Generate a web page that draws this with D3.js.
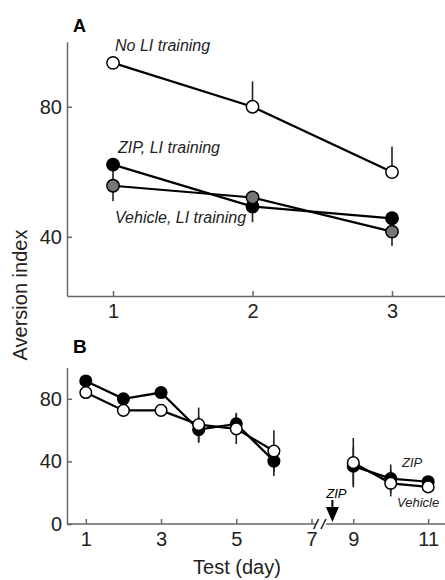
<!DOCTYPE html>
<html>
<head>
<meta charset="utf-8">
<script src="https://cdn.jsdelivr.net/npm/d3@7"></script>
<style>
  body { margin: 0; background: #fff; }
  svg { font-family: "Liberation Sans", Arial, Helvetica, sans-serif; }
  .axis path, .axis line { stroke: #666; stroke-width: 1.5; }
  .axis text { font-size: 20px; fill: #222; }
</style>
</head>
<body>
<div id="chart"></div>
<script>
// Panel A: latent inhibition training, test days 1-3
var daysA = [1, 2, 3];
var noLI = [93.5, 80, 59.9];
var noLIErr = [0, 7.8, 7.9];
var zipLI = [62.2, 49.3, 45.7];
var zipLIErr = [5, 4.8, 0];
var vehLI = [55.7, 52.1, 41.6];
var vehLIErr = [4.8, 0, 4.4];

// Panel B: extinction days, ZIP given before day 9
var daysB = [1, 2, 3, 4, 5, 6, 9, 10, 11];
var zipB = [91.4, 80, 84, 60.3, 64, 40.2, 37, 29, 27];
var zipBErr = [2, 2, 2, 8.5, 7, 9.5, 12, 9, 2];
var vehB = [84, 72.6, 72.6, 63.5, 60.8, 46.6, 39.2, 26, 23.7];
var vehBErr = [2, 2, 2, 10.9, 9.7, 13.3, 15.8, 8.4, 2];

var ticksAx = [1, 2, 3];
var ticksAy = [40, 80];
var ticksBx = [1, 3, 5, 7, 9, 11];
var ticksBy = [0, 40, 80];

var width = 445, height = 580;

var svg = d3.select('#chart').append('svg')
    .attr('width', width)
    .attr('height', height);

// ---- Panel A ----
var xA = d3.scaleLinear().domain([0.67, 3.38]).range([67, 445]);
var yA = d3.scaleLinear().domain([21.8, 100]).range([296, 41.7]);

svg.append('g').attr('class', 'axis')
    .attr('transform', 'translate(0,296)')
    .call(d3.axisBottom(xA).tickValues(ticksAx).tickFormat(d3.format('d'))
        .tickSize(-5).tickPadding(8).tickSizeOuter(0));
svg.append('g').attr('class', 'axis')
    .attr('transform', 'translate(67,0)')
    .call(d3.axisLeft(yA).tickValues(ticksAy).tickSize(-5).tickPadding(5).tickSizeOuter(0));

var seriesA = [
    {vals: zipLI, err: zipLIErr, dir: -1, fill: '#000'},
    {vals: vehLI, err: vehLIErr, dir: -1, fill: '#777'},
    {vals: noLI, err: noLIErr, dir: 1, fill: '#fff'}
];

var lineA = d3.line()
    .x(function (d, i) { return xA(daysA[i]); })
    .y(function (d) { return yA(d); });

seriesA.forEach(function (s) {
    svg.append('g').selectAll('line')
        .data(s.vals).enter().append('line')
        .attr('x1', function (d, i) { return xA(daysA[i]); })
        .attr('x2', function (d, i) { return xA(daysA[i]); })
        .attr('y1', function (d) { return yA(d); })
        .attr('y2', function (d, i) { return yA(d + s.dir * s.err[i]); })
        .attr('stroke', '#222').attr('stroke-width', 1.6);
});
seriesA.forEach(function (s) {
    svg.append('path').datum(s.vals)
        .attr('d', lineA)
        .attr('fill', 'none').attr('stroke', '#000').attr('stroke-width', 2.2);
});
seriesA.forEach(function (s) {
    svg.append('g').selectAll('circle')
        .data(s.vals).enter().append('circle')
        .attr('cx', function (d, i) { return xA(daysA[i]); })
        .attr('cy', function (d) { return yA(d); })
        .attr('r', 6.2)
        .attr('fill', s.fill).attr('stroke', '#000').attr('stroke-width', 1.5);
});

svg.append('text').attr('x', 73).attr('y', 32)
    .style('font-size', '18px').style('font-weight', 'bold').text('A');

var labelsA = [
    {t: 'No LI training', x: 115, y: 51},
    {t: 'ZIP, LI training', x: 118, y: 153},
    {t: 'Vehicle, LI training', x: 115, y: 223}
];
svg.selectAll('.labA').data(labelsA).enter().append('text')
    .attr('x', function (d) { return d.x; })
    .attr('y', function (d) { return d.y; })
    .style('font-size', '16px').style('font-style', 'italic').style('fill', '#222')
    .text(function (d) { return d.t; });

// ---- Panel B ----
var xB = d3.scaleLinear().domain([0.5, 7, 9, 11.45]).range([67, 311.5, 353.3, 445]);
var yB = d3.scaleLinear().domain([0, 100]).range([524, 367.5]);

var gxB = svg.append('g').attr('class', 'axis')
    .attr('transform', 'translate(0,524)')
    .call(d3.axisBottom(xB).tickValues(ticksBx).tickSize(-5).tickPadding(8));
gxB.select('.domain').remove();
// broken x axis
[[xB(0.5), xB(7.2)], [xB(7.7), xB(11.45)]].forEach(function (seg) {
    gxB.append('line').attr('x1', seg[0]).attr('x2', seg[1])
        .attr('y1', 0).attr('y2', 0);
});
[7.15, 7.5].forEach(function (d) {
    gxB.append('line')
        .attr('x1', xB(d) - 1).attr('y1', 5)
        .attr('x2', xB(d) + 4).attr('y2', -5)
        .style('stroke', '#222').style('stroke-width', 1.5);
});

svg.append('g').attr('class', 'axis')
    .attr('transform', 'translate(67,0)')
    .call(d3.axisLeft(yB).tickValues(ticksBy).tickSize(-5).tickPadding(5).tickSizeOuter(0));

var seriesB = [
    {vals: zipB, err: zipBErr, fill: '#000'},
    {vals: vehB, err: vehBErr, fill: '#fff'}
];

// two separate segments: days 1-6 and 9-11
function segs(vals) {
    return [vals.slice(0, 6).map(function (v, i) { return [daysB[i], v]; }),
            vals.slice(6).map(function (v, i) { return [daysB[i + 6], v]; })];
}
var lineB = d3.line()
    .x(function (d) { return xB(d[0]); })
    .y(function (d) { return yB(d[1]); });

seriesB.forEach(function (s) {
    svg.append('g').selectAll('line')
        .data(s.vals).enter().append('line')
        .attr('x1', function (d, i) { return xB(daysB[i]); })
        .attr('x2', function (d, i) { return xB(daysB[i]); })
        .attr('y1', function (d, i) { return yB(d - s.err[i]); })
        .attr('y2', function (d, i) { return yB(d + s.err[i]); })
        .attr('stroke', '#222').attr('stroke-width', 1.6);
});
seriesB.forEach(function (s) {
    svg.append('g').selectAll('path')
        .data(segs(s.vals)).enter().append('path')
        .attr('d', lineB)
        .attr('fill', 'none').attr('stroke', '#000').attr('stroke-width', 2.2);
});
seriesB.forEach(function (s) {
    svg.append('g').selectAll('circle')
        .data(s.vals).enter().append('circle')
        .attr('cx', function (d, i) { return xB(daysB[i]); })
        .attr('cy', function (d) { return yB(d); })
        .attr('r', 5.8)
        .attr('fill', s.fill).attr('stroke', '#000').attr('stroke-width', 1.5);
});

// injection arrow
var ax = xB(8);
svg.append('line').attr('x1', ax).attr('x2', ax).attr('y1', 500).attr('y2', 510)
    .attr('stroke', '#000').attr('stroke-width', 2);
svg.append('path')
    .attr('d', 'M' + (ax - 6.5) + ',507L' + (ax + 6.5) + ',507L' + ax + ',522Z')
    .attr('fill', '#000');
svg.append('text').attr('x', ax + 4).attr('y', 498).attr('text-anchor', 'middle')
    .style('font-size', '13px').style('font-style', 'italic').text('ZIP');

svg.append('text').attr('x', 402).attr('y', 467)
    .style('font-size', '13px').style('font-style', 'italic').style('fill', '#222').text('ZIP');
svg.append('text').attr('x', 397).attr('y', 507)
    .style('font-size', '13px').style('font-style', 'italic').style('fill', '#222').text('Vehicle');

svg.append('text').attr('x', 73).attr('y', 353)
    .style('font-size', '19px').style('font-weight', 'bold').text('B');

// axis titles
svg.append('text')
    .attr('transform', 'translate(27,295) rotate(-90)')
    .attr('text-anchor', 'middle')
    .style('font-size', '20px').style('fill', '#222')
    .text('Aversion index');
svg.append('text').attr('x', 237).attr('y', 574)
    .attr('text-anchor', 'middle')
    .style('font-size', '20px').style('fill', '#222')
    .text('Test (day)');
</script>
</body>
</html>
